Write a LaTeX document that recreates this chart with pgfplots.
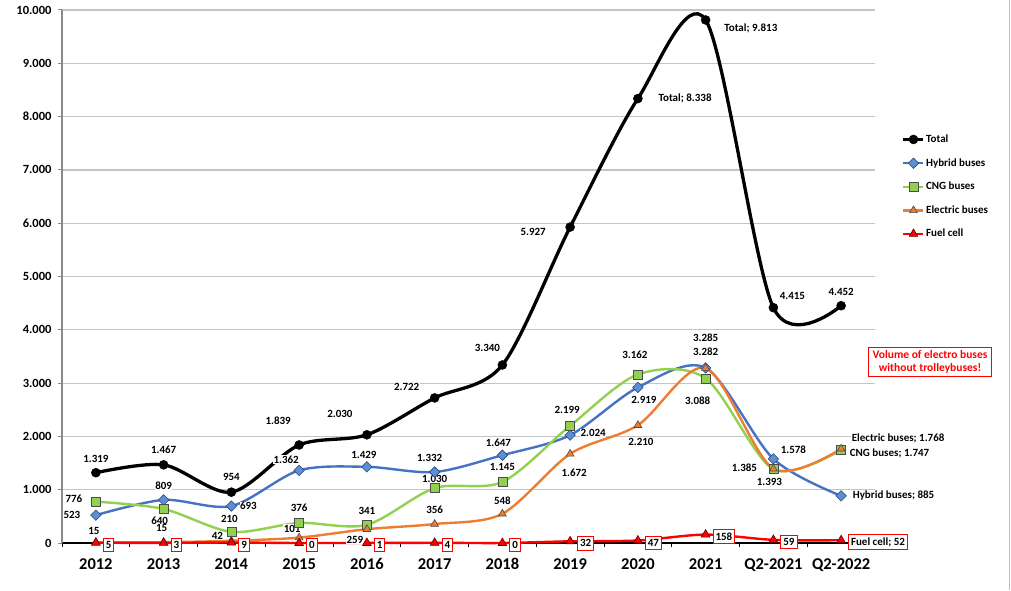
\documentclass[border=0pt]{standalone}
\usepackage{fontspec}
\setmainfont{Carlito}
\usepackage{pgfplots}
\usepackage{pgfplotstable}
\pgfplotsset{compat=1.18}
\definecolor{cHyb}{HTML}{4472C4}
\definecolor{cHybF}{HTML}{5B8FD5}
\definecolor{cCNG}{HTML}{92D050}
\definecolor{cEl}{HTML}{ED7D31}
\definecolor{cFC}{HTML}{FF0000}
\definecolor{gridc}{HTML}{C4C4C4}
\definecolor{axc}{HTML}{8A8A8A}
\pgfplotstableread{
x total hyb cng el fc
0 1319 523 776 15 5
1 1467 809 640 15 3
2 954 693 210 42 9
3 1839 1362 376 101 0
4 2030 1429 341 259 1
5 2722 1332 1030 356 4
6 3340 1647 1145 548 0
7 5927 2024 2199 1672 32
8 8338 2919 3162 2210 47
9 9813 3285 3088 3282 158
10 4415 1578 1385 1393 59
11 4452 885 1747 1768 52
}\data
\tikzset{lbl/.style={font=\fontsize{11}{12}\selectfont\bfseries, fill=white, inner sep=0.5pt},
 fcb/.style={font=\fontsize{11}{12}\selectfont\bfseries, draw=cFC, fill=white, inner xsep=2.5pt, inner ysep=3pt, line width=0.8pt, anchor=west}}
\newcommand\lb[5]{\node[lbl,xshift=#3pt,yshift=#4pt] at (axis cs:#1,#2) {#5};}
\newcommand\lw[5]{\node[lbl,anchor=west,xshift=#3pt,yshift=#4pt] at (axis cs:#1,#2) {#5};}
\newcommand\fb[3]{\node[fcb,xshift=7pt,yshift=-2pt] at (axis cs:#1,#2) {#3};}
\begin{document}
\begin{tikzpicture}
\path[use as bounding box] (0,0) rectangle (1011pt,590pt);
\begin{axis}[
  at={(62pt,47pt)}, anchor=south west,
  scale only axis, width=813pt, height=533pt,
  xmin=-0.5, xmax=11.5, ymin=0, ymax=10000,
  clip=false,
  axis x line=bottom, axis y line=left,
  x axis line style={black, line width=1.8pt, -},
  y axis line style={axc, line width=2.5pt, -},
  xtick={-0.5,0.5,...,11.5}, xticklabels={},
  extra x ticks={0,1,...,11},
  extra x tick labels={2012,2013,2014,2015,2016,2017,2018,2019,2020,2021,Q2-2021,Q2-2022},
  extra x tick style={major tick length=0pt, grid=none},
  ytick={0,1000,...,10000},
  yticklabels={0,1.000,2.000,3.000,4.000,5.000,6.000,7.000,8.000,9.000,10.000},
  tick align=outside, major tick length=4pt,
  x tick style={black, line width=1pt},
  y tick style={axc, line width=1pt},
  ymajorgrids, major grid style={gridc, line width=1.2pt},
  xticklabel style={font=\fontsize{16.5}{18}\selectfont\bfseries, yshift=-12pt},
  yticklabel style={font=\fontsize{12.5}{14}\selectfont\bfseries, xshift=-3pt, inner ysep=1pt},
  legend style={at={(1.033,0.7665)}, anchor=north west, draw=none, fill=none,
    font=\fontsize{11}{12}\selectfont\bfseries, inner sep=0pt, outer sep=0pt,
    row sep=13.5pt, nodes={inner xsep=1pt, inner ysep=0pt, text height=8pt, text depth=2pt},
    cells={anchor=west}},
  legend image code/.code={\draw[mark repeat=2,mark phase=2,#1] plot coordinates {(0pt,0pt) (10pt,0pt) (20pt,0pt)};},
]
\addplot[black, line width=3.3pt, smooth, mark=*, mark size=4.5pt, mark options={line width=0.5pt}] table[x=x,y=total]{\data};
\addlegendentry{Total}
\addplot[cHyb, line width=2.4pt, smooth, mark=square*, mark size=3.7pt, mark options={rotate=45, fill=cHybF, draw=cHyb!60!black, line width=0.6pt}] table[x=x,y=hyb]{\data};
\addlegendentry{Hybrid buses}
\addplot[cCNG, line width=2.4pt, smooth, mark=square*, mark size=4.5pt, mark options={fill=cCNG, draw=black!70, line width=0.7pt}] table[x=x,y=cng]{\data};
\addlegendentry{CNG buses}
\addplot[cEl, line width=2.4pt, smooth, mark=triangle*, mark size=4.5pt, mark options={fill=cEl, draw=black!70, line width=0.6pt}] table[x=x,y=el]{\data};
\addlegendentry{Electric buses}
\addplot[cFC, line width=2.4pt, smooth, mark=triangle*, mark size=5pt, mark options={fill=cFC, draw=black!60!red, line width=0.6pt}] table[x=x,y=fc]{\data};
\addlegendentry{Fuel cell}
% Total labels
\lb{0}{1319}{0}{14}{1.319}
\lb{1}{1467}{0}{15}{1.467}
\lb{2}{954}{0}{15}{954}
\lb{3}{1839}{-21}{24}{1.839}
\lb{4}{2030}{-27}{21}{2.030}
\lb{5}{2722}{-28}{11}{2.722}
\lb{6}{3340}{-15}{17}{3.340}
\lb{7}{5927}{-37}{-5}{5.927}
\lw{8}{8338}{20}{0}{Total; 8.338}
\lw{9}{9813}{18}{-8}{Total; 9.813}
\lb{10}{4415}{19}{12}{4.415}
\lb{11}{4452}{0}{14}{4.452}
% Hybrid labels
\lb{0}{523}{-24}{0}{523}
\lb{1}{809}{0}{14}{809}
\lb{2}{693}{17}{0}{693}
\lb{3}{1362}{-13}{11}{1.362}
\lb{4}{1429}{-3}{12}{1.429}
\lb{5}{1332}{-5}{14}{1.332}
\lb{6}{1647}{-4}{12.5}{1.647}
\lb{7}{2024}{23}{2}{2.024}
\lb{8}{2919}{6}{-13}{2.919}
\lb{9}{3285}{0}{30.6}{3.285}
\lb{10}{1578}{20}{9.6}{1.578}
\lw{11}{885}{11}{0}{Hybrid buses; 885}
% CNG labels
\lb{0}{776}{-22}{3}{776}
\lb{1}{640}{-4}{-12}{640}
\lb{2}{210}{-2}{13}{210}
\lb{3}{376}{0}{15}{376}
\lb{4}{341}{0}{14}{341}
\lb{5}{1030}{0}{9}{1.030}
\lb{6}{1145}{0}{15}{1.145}
\lb{7}{2199}{-3}{16}{2.199}
\lb{8}{3162}{-3}{19.5}{3.162}
\lb{9}{3088}{-8}{-22.6}{3.088}
\lb{10}{1385}{-29}{1}{1.385}
\lw{11}{1747}{8}{-3}{CNG buses; 1.747}
% Electric labels
\lb{0}{15}{-2}{11.5}{15}
\lb{1}{15}{-2}{14.5}{15}
\lb{2}{42}{-14}{5}{42}
\lb{3}{101}{-7}{9}{101}
\lb{4}{259}{-12}{-11}{259}
\lb{5}{356}{0}{14}{356}
\lb{6}{548}{0}{13.5}{548}
\lb{7}{1672}{4}{-19}{1.672}
\lb{8}{2210}{3}{-17}{2.210}
\lb{9}{3282}{0}{16}{3.282}
\lb{10}{1393}{-4}{-13}{1.393}
\lw{11}{1768}{10}{10.5}{Electric buses; 1.768}
% Fuel cell boxes
\fb{0}{5}{5}
\fb{1}{3}{3}
\fb{2}{9}{9}
\fb{3}{0}{0}
\fb{4}{1}{1}
\fb{5}{4}{4}
\fb{6}{0}{0}
\fb{7}{32}{32}
\fb{8}{47}{47}
\fb{9}{158}{158}
\fb{10}{59}{59}
\fb{11}{52}{Fuel cell; 52}
\end{axis}
\node[draw=cFC, line width=1.3pt, text=cFC, font=\fontsize{11.5}{13.5}\selectfont\bfseries, align=center, inner xsep=4pt, inner ysep=3pt] at (930pt,228pt) {Volume of electro buses\\without trolleybuses!};
\draw[black!25, line width=1pt] (1009pt,0pt) -- (1009pt,590pt);
\end{tikzpicture}
\end{document}
